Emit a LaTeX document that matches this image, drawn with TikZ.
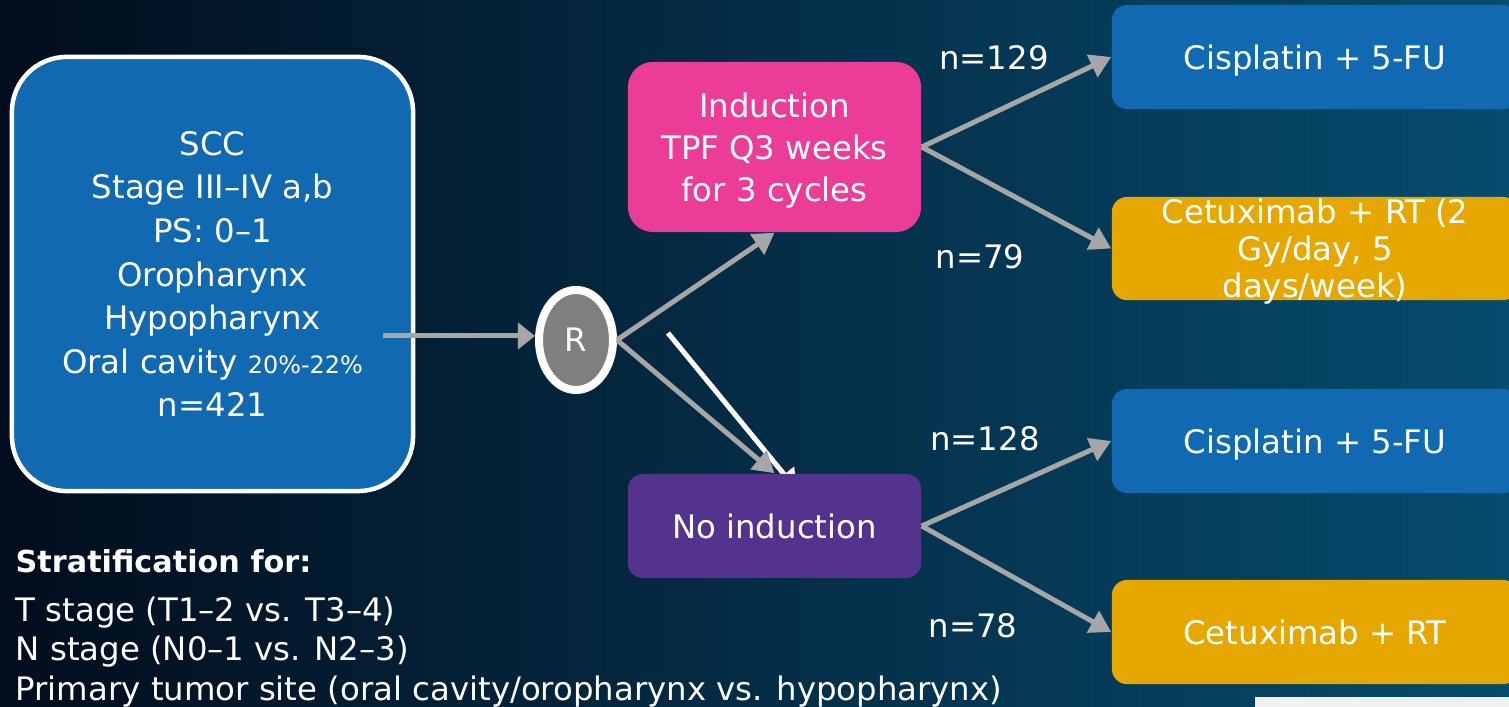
\documentclass[tikz,border=0pt]{standalone}
\usepackage{fontspec}
\setmainfont{DejaVu Sans}
\usetikzlibrary{arrows.meta,shapes.geometric}
\definecolor{nightblue}{HTML}{020D1D}
\definecolor{midblue}{HTML}{03304E}
\definecolor{seablue}{HTML}{064C6E}
\definecolor{boxblue}{HTML}{1069B1}
\definecolor{rosepink}{HTML}{EB3D97}
\definecolor{deeppurple}{HTML}{54338F}
\definecolor{amber}{HTML}{E6A700}
\definecolor{arrowgrey}{HTML}{A6A6A6}
\definecolor{stonegrey}{HTML}{7F7F7F}
\definecolor{paperwhite}{HTML}{F0F0F0}

\begin{document}
\begin{tikzpicture}[x=0.01cm,y=-0.01cm,text=white,
	font=\fontsize{9.2}{12.4}\selectfont,
	box/.style={rectangle,rounded corners=0.15cm,align=center,inner sep=0pt,text depth=0pt},
	arr/.style={draw=arrowgrey,line width=0.05cm,-{Triangle[length=0.21cm,width=0.24cm]}}]
				\useasboundingbox (0,0) rectangle (1509,707);
				\clip (0,0) rectangle (1509,707);
				\shade[left color=nightblue,middle color=midblue,right color=seablue] (0,0) rectangle (1509,707);
				\fill[paperwhite] (1255,697) rectangle (1509,707);
				% white stroke, partly under the lower box
				\coordinate (w1) at (668,333);
				\coordinate (w2) at (797,490);
				\draw[white,line width=0.05cm,-{Triangle[length=0.2cm,width=0.24cm]}] (w1) -- (w2);
				\node[box,draw=white,line width=0.045cm,fill=boxblue,rounded corners=0.55cm,minimum width=4.01cm,minimum height=4.34cm] (scc) at (212.5,274) {SCC\\Stage III–IV a,b\\PS: 0–1\\Oropharynx\\Hypopharynx\\Oral cavity {\fontsize{6.8}{8}\selectfont 20\%-22\%}\\n=421};
				\node[ellipse,draw=white,line width=0.08cm,fill=stonegrey,minimum width=0.74cm,minimum height=1cm,inner sep=0pt] (rand) at (576,340) {R};
				\node[box,fill=rosepink,rounded corners=0.25cm,minimum width=2.93cm,minimum height=1.7cm,font=\fontsize{9.2}{11.9}\selectfont] (ind) at (774.5,147) {Induction\\TPF Q3 weeks\\for 3 cycles};
				\node[box,fill=deeppurple,minimum width=2.93cm,minimum height=1.04cm] (noind) at (774.5,526) {No induction};
				\node[box,fill=boxblue,minimum width=4.06cm,minimum height=1.04cm] (cis1) at (1315,57) {Cisplatin + 5-FU};
				\node[box,fill=amber,minimum width=4.06cm,minimum height=1.03cm,font=\fontsize{9.2}{10.5}\selectfont] (cet1) at (1315,248.5) {Cetuximab + RT (2\\Gy/day, 5\\days/week)};
				\node[box,fill=boxblue,minimum width=4.06cm,minimum height=1.04cm] (cis2) at (1315,441) {Cisplatin + 5-FU};
				\node[box,fill=amber,minimum width=4.06cm,minimum height=1.04cm] (cet2) at (1315,632) {Cetuximab + RT};
				\coordinate (src) at (383,336);
				\draw[arr,-{Triangle[length=0.17cm,width=0.26cm]}] (src) -- (src -| rand.west);
				\draw[arr] (rand.east) -- (ind.south);
				\draw[arr] (rand.east) -- (noind.north);
				\draw[arr] (ind.east) -- (cis1.west);
				\draw[arr] (ind.east) -- (cet1.west);
				\draw[arr] (noind.east) -- (cis2.west);
				\draw[arr] (noind.east) -- (cet2.west);
				\node (n129) at (994,58) {n=129};
				\node (n79) at (980,257) {n=79};
				\node (n128) at (985,439) {n=128};
				\node (n78) at (973,626) {n=78};
				\node[anchor=west,inner sep=0pt,font=\bfseries\fontsize{8.6}{10}\selectfont] (strat) at (15,561) {Stratification for:};
				\node[anchor=west,align=left,inner sep=0pt,font=\fontsize{9.2}{11.3}\selectfont] (stratlist) at (15,652) {T stage (T1–2 vs. T3–4)\\N stage (N0–1 vs. N2–3)\\Primary tumor site (oral cavity/oropharynx vs. hypopharynx)};
			\end{tikzpicture}
\end{document}
